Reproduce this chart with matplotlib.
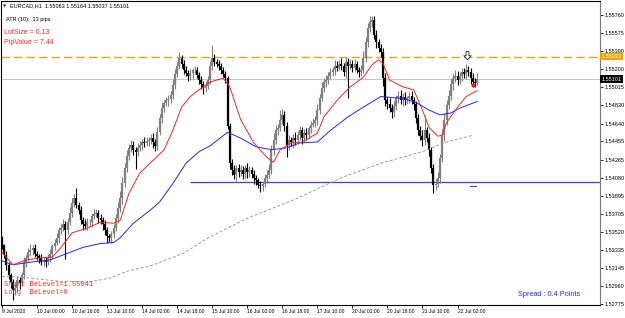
import matplotlib
matplotlib.use("Agg")
import matplotlib.pyplot as plt
import matplotlib.transforms as mtransforms
from matplotlib.path import Path

plt.rcParams['font.family'] = ['Liberation Sans', 'DejaVu Sans']

# EURCAD H1 closes, 9 Jul 2020 08:00 .. 22 Jul
first_open = 1.5345
closes = [
    1.5338, 1.5328, 1.5318, 1.5307, 1.5300, 1.5292, 1.5294, 1.5302, 1.5299, 1.5307,
    1.5321, 1.5325, 1.5331, 1.5333, 1.5335, 1.5329, 1.5327, 1.5325, 1.5321, 1.5323,
    1.5321, 1.5325, 1.5329, 1.5337, 1.5341, 1.5346, 1.5354, 1.5356, 1.5360, 1.5354,
    1.5362, 1.5372, 1.5382, 1.5387, 1.5380, 1.5375, 1.5364, 1.5360, 1.5358, 1.5362,
    1.5362, 1.5368, 1.5371, 1.5372, 1.5366, 1.5364, 1.5360, 1.5354, 1.5348, 1.5346,
    1.5350, 1.5356, 1.5366, 1.5377, 1.5387, 1.5403, 1.5418, 1.5431, 1.5439, 1.5442,
    1.5437, 1.5435, 1.5439, 1.5442, 1.5445, 1.5444, 1.5446, 1.5447, 1.5449, 1.5445,
    1.5441, 1.5455, 1.5470, 1.5480, 1.5485, 1.5488, 1.5489, 1.5494, 1.5504, 1.5515,
    1.5524, 1.5532, 1.5526, 1.5519, 1.5516, 1.5513, 1.5516, 1.5519, 1.5519, 1.5514,
    1.5509, 1.5505, 1.5501, 1.5503, 1.5509, 1.5524, 1.5532, 1.5528, 1.5526, 1.5524,
    1.5519, 1.5515, 1.5511, 1.5462, 1.5423, 1.5416, 1.5411, 1.5418, 1.5414, 1.5416,
    1.5412, 1.5418, 1.5414, 1.5416, 1.5412, 1.5408, 1.5406, 1.5401, 1.5399, 1.5402,
    1.5408, 1.5411, 1.5416, 1.5437, 1.5447, 1.5457, 1.5459, 1.5468, 1.5473, 1.5462,
    1.5442, 1.5447, 1.5445, 1.5449, 1.5447, 1.5452, 1.5457, 1.5449, 1.5454, 1.5452,
    1.5459, 1.5463, 1.5465, 1.5468, 1.5478, 1.5490, 1.5501, 1.5507, 1.5509, 1.5513,
    1.5517, 1.5519, 1.5524, 1.5522, 1.5526, 1.5524, 1.5517, 1.5528, 1.5524, 1.5526,
    1.5522, 1.5526, 1.5519, 1.5517, 1.5519, 1.5532, 1.5548, 1.5563, 1.5569, 1.5571,
    1.5556, 1.5548, 1.5542, 1.5538, 1.5511, 1.5488, 1.5484, 1.5480, 1.5476, 1.5482,
    1.5490, 1.5493, 1.5488, 1.5492, 1.5488, 1.5490, 1.5493, 1.5488, 1.5484, 1.5470,
    1.5457, 1.5451, 1.5447, 1.5457, 1.5449, 1.5437, 1.5418, 1.5400, 1.5402, 1.5408,
    1.5428, 1.5452, 1.5468, 1.5483, 1.5493, 1.5505, 1.5511, 1.5513, 1.5509, 1.5513,
    1.5517, 1.5515, 1.5519, 1.5517, 1.5511, 1.5507, 1.55063, 1.55101,
]
# shadows above / below the body, in pips
hi_wick = [
    3, 2, 4, 3, 2, 3, 5, 4, 3, 4,  5, 3, 4, 6, 3, 4, 3, 2, 4, 3,
    3, 4, 5, 3, 4, 5, 3, 4, 5, 3,  4, 6, 5, 4, 10, 3, 4, 3, 5, 4,
    3, 4, 5, 4, 3, 4, 3, 4, 3, 2,  3, 4, 5, 6, 7, 6, 5, 6, 4, 5,
    4, 3, 5, 4, 3, 5, 4, 3, 4, 5,  3, 5, 4, 6, 3, 4, 5, 4, 6, 5,
    4, 6, 3, 4, 5, 3, 4, 3, 5, 4,  3, 4, 3, 5, 4, 5, 13, 4, 3, 4,
    3, 4, 3, 2, 3, 4, 5, 3, 4, 5,  4, 3, 5, 4, 3, 4, 3, 2, 4, 3,
    4, 5, 6, 5, 7, 6, 5, 10, 6, 4,  4, 5, 3, 4, 6, 4, 5, 3, 4, 5,
    3, 4, 5, 4, 6, 5, 6, 4, 5, 4,  5, 4, 6, 5, 4, 6, 3, 5, 4, 5,
    4, 5, 3, 4, 6, 7, 6, 5, 6, 4,  4, 5, 3, 4, 4, 5, 4, 6, 4, 5,
    4, 5, 6, 4, 5, 3, 4, 5, 4, 3,  4, 5, 6, 15, 4, 5, 3, 4, 5, 6,
    5, 6, 7, 5, 6, 5, 4, 6, 5, 4,  5, 4, 7, 5, 4, 5, 4, 6.3,
]
lo_wick = [
    4, 3, 5, 4, 6, 10, 5, 4, 6, 3,  4, 5, 3, 4, 5, 3, 4, 5, 3, 4,
    5, 3, 4, 5, 4, 3, 5, 4, 3, 30,  4, 3, 5, 4, 3, 5, 4, 6, 3, 4,
    4, 5, 3, 4, 5, 4, 6, 5, 7, 4,  5, 4, 3, 5, 4, 6, 5, 4, 5, 4,
    5, 18, 4, 3, 5, 4, 3, 5, 4, 6,  5, 4, 3, 5, 4, 3, 6, 4, 5, 4,
    3, 4, 5, 4, 3, 5, 4, 6, 4, 3,  4, 5, 6, 4, 3, 4, 5, 4, 3, 5,
    4, 3, 5, 4, 6, 5, 4, 6, 5, 4,  5, 4, 6, 5, 4, 6, 5, 4, 6, 5,
    4, 5, 3, 4, 5, 4, 5, 3, 4, 6,  13, 5, 4, 6, 5, 4, 5, 6, 4, 5,
    4, 5, 3, 4, 5, 4, 3, 4, 5, 4,  3, 4, 5, 4, 3, 5, 4, 6, 34, 4,
    5, 4, 3, 5, 4, 3, 4, 5, 4, 5,  5, 6, 4, 5, 8, 6, 5, 4, 6, 5,
    4, 5, 4, 6, 5, 4, 5, 4, 6, 5,  5, 4, 6, 5, 4, 6, 5, 8, 5, 4,
    5, 4, 6, 5, 4, 5, 6, 4, 5, 4,  5, 4, 5, 4, 6, 5, 4, 2.6,
]

# moving averages (bar index, price)
red_idx = [0, 5, 11, 17, 23, 27, 32, 39, 45, 51, 54, 58, 63, 69, 74, 78, 82, 86, 90,
           95, 101, 104, 109, 115, 121, 124, 127, 132, 137, 144, 147, 153, 159, 165,
           169, 172, 174, 177, 183, 188, 192, 195, 199, 201, 203, 208, 212, 216, 217]
red_val = [1.5331, 1.5318, 1.5323, 1.5325, 1.5326, 1.5336, 1.5351, 1.5356, 1.5362,
           1.5361, 1.5364, 1.5392, 1.5413, 1.5426, 1.5437, 1.5457, 1.5481, 1.5492,
           1.5499, 1.5507, 1.5511, 1.5502, 1.5468, 1.5444, 1.5429, 1.5424, 1.5437,
           1.5444, 1.5445, 1.5454, 1.5471, 1.5488, 1.5502, 1.5512, 1.5525, 1.5530,
           1.5526, 1.5509, 1.5502, 1.5499, 1.5478, 1.5460, 1.5451, 1.5452, 1.5465,
           1.5481, 1.5492, 1.5497, 1.5498]
blue_idx = [0, 5, 14, 22, 30, 37, 45, 51, 54, 60, 68, 72, 78, 84, 90, 95, 103, 109,
            116, 123, 130, 136, 144, 150, 158, 165, 173, 183, 189, 195, 200, 205,
            209, 216, 217]
blue_val = [1.5322, 1.5318, 1.5321, 1.5323, 1.5330, 1.5336, 1.5340, 1.5341, 1.5346,
            1.5361, 1.5375, 1.5383, 1.5402, 1.5423, 1.5435, 1.5441, 1.5455, 1.5449,
            1.5440, 1.5437, 1.5439, 1.5444, 1.5445, 1.5457, 1.5471, 1.5481, 1.5492,
            1.5490, 1.5486, 1.5478, 1.5473, 1.5475, 1.5480, 1.5486, 1.5487]
gray_idx = [0, 10, 26, 39, 49, 58, 68, 83, 95, 113, 133, 156, 173, 192, 203, 215]
gray_val = [1.5306, 1.5305, 1.5301, 1.5300, 1.5304, 1.5312, 1.5317, 1.5330, 1.5347,
            1.5367, 1.5385, 1.5409, 1.5423, 1.5435, 1.5445, 1.5452]

orange_level = 1.55333
bid_level = 1.55101
support_level = 1.54036
support_start = 86

xtick_pos = [0, 16, 32, 48, 64, 80, 96, 112, 128, 144, 160, 176, 192, 208]
xtick_lab = ["9 Jul 2020", "10 Jul 00:00", "10 Jul 16:00", "13 Jul 10:00",
             "14 Jul 02:00", "14 Jul 18:00", "15 Jul 10:00", "16 Jul 02:00",
             "16 Jul 18:00", "17 Jul 10:00", "20 Jul 02:00", "20 Jul 18:00",
             "21 Jul 10:00", "22 Jul 02:00"]
yticks = [1.55760, 1.55575, 1.55390, 1.55200, 1.55015, 1.54830, 1.54640, 1.54455,
          1.54265, 1.54080, 1.53895, 1.53705, 1.53520, 1.53335, 1.53145, 1.52960,
          1.52775]

pip = 0.0001
opens = [first_open] + closes[:-1]
highs = [max(o, c) + w * pip for o, c, w in zip(opens, closes, hi_wick)]
lows = [min(o, c) - w * pip for o, c, w in zip(opens, closes, lo_wick)]
idx = list(range(len(closes)))
cols = ['#808080' if c >= o else 'black' for o, c in zip(opens, closes)]

fig = plt.figure(figsize=(6.25, 3.18), dpi=100)
ax = fig.add_axes([1 / 625, 13 / 318, 599 / 625, 304 / 318])

ax.axhline(orange_level, color='#f5a200', lw=1.0, dashes=(6, 3), zorder=1)
ax.axhline(bid_level, color='#c4c4c4', lw=0.7, zorder=1)
ax.hlines(support_level, support_start, 300, color='#3c3cff', lw=0.9, zorder=2)

ax.vlines(idx, lows, highs, colors=cols, lw=0.8, zorder=3)
ax.vlines(idx, [min(o, c) for o, c in zip(opens, closes)],
          [max(o, c) for o, c in zip(opens, closes)], colors=cols, lw=1.6, zorder=3)

ax.plot(gray_idx, gray_val, color='#9a9a9a', lw=0.7, dashes=(3, 2), zorder=4)
ax.plot(blue_idx, blue_val, color='#2424ff', lw=0.7, zorder=4)
ax.plot(red_idx, red_val, color='#ff2020', lw=0.7, zorder=4)

# small markers near the last bar
ax.plot([213.5, 216.5], [1.5399, 1.5399], color='#3c3cff', lw=0.8)
ax.plot([215], [1.5504], 'o', color='#ff1010', ms=1.8, zorder=5)
arrow = Path([(-0.3, 1.0), (0.3, 1.0), (0.3, 0.15), (0.75, 0.15), (0.0, -0.7),
              (-0.75, 0.15), (-0.3, 0.15), (-0.3, 1.0)])
ax.plot([212.5], [1.5534], marker=arrow, ms=7, mfc='white', mec='#222222',
        mew=0.6, zorder=5)

ax.set_xlim(-0.45, -0.45 + 599 / 2.19)
ax.set_ylim(1.52764, 1.55908)

ax.yaxis.tick_right()
ax.set_yticks(yticks)
ax.set_yticklabels([f"{v:.5f}" for v in yticks])
ax.tick_params(axis='y', length=2, pad=1, labelsize=4, width=0.6)
ax.set_xticks(xtick_pos)
ax.set_xticklabels(xtick_lab)
ax.tick_params(axis='x', length=2, pad=1, labelsize=3.6, width=0.6)
for lbl in ax.get_xticklabels():
    lbl.set_ha('left')
    lbl.set_family(['Liberation Sans Narrow', 'Liberation Sans'])
for sp in ax.spines.values():
    sp.set_linewidth(0.8)
ax.spines['right'].set_color('#7a7a7a')

# price tags on the scale
tr = mtransforms.blended_transform_factory(ax.transAxes, ax.transData)
ax.text(1.003, orange_level, f"{orange_level:.5f}", transform=tr, fontsize=4,
        color='white', va='center', ha='left',
        bbox=dict(boxstyle='square,pad=0.25', fc='#f5a200', ec='none'))
ax.text(1.003, bid_level, f"{bid_level:.5f}", transform=tr, fontsize=4,
        color='white', va='center', ha='left',
        bbox=dict(boxstyle='square,pad=0.25', fc='black', ec='none'))

# overlay texts
fig.text(3 / 625, 1 - 6 / 318, '\u25bc', family='DejaVu Sans', fontsize=3,
         va='center', color='#333333')
fig.text(10 / 625, 1 - 6 / 318, "EURCAD,H1  1.55063 1.55164 1.55037 1.55101",
         fontsize=4, va='center', color='black')
fig.text(6 / 625, 1 - 19 / 318, "ATR (10):  13 pips", fontsize=4, va='center')
fig.text(4 / 625, 1 - 33 / 318, "LotSize = 0.13", fontsize=5, va='center',
         color='#ff2828')
fig.text(4 / 625, 1 - 42 / 318, "PipValue = 7.44", fontsize=5, va='center',
         color='#ff2828')
fig.text(4 / 625, 1 - 284 / 318, "Short BeLevel=1.55041", family='Liberation Mono',
         fontsize=5, va='center', color='#ff2828')
fig.text(4 / 625, 1 - 292 / 318, "Long  BeLevel=0", family='Liberation Mono',
         fontsize=5, va='center', color='#ff2828')
fig.text(518 / 625, 1 - 294 / 318, "Spread : 0.4 Points", fontsize=5.3,
         va='center', color='#2a2aff')

fig.savefig("out.png", dpi=100)
